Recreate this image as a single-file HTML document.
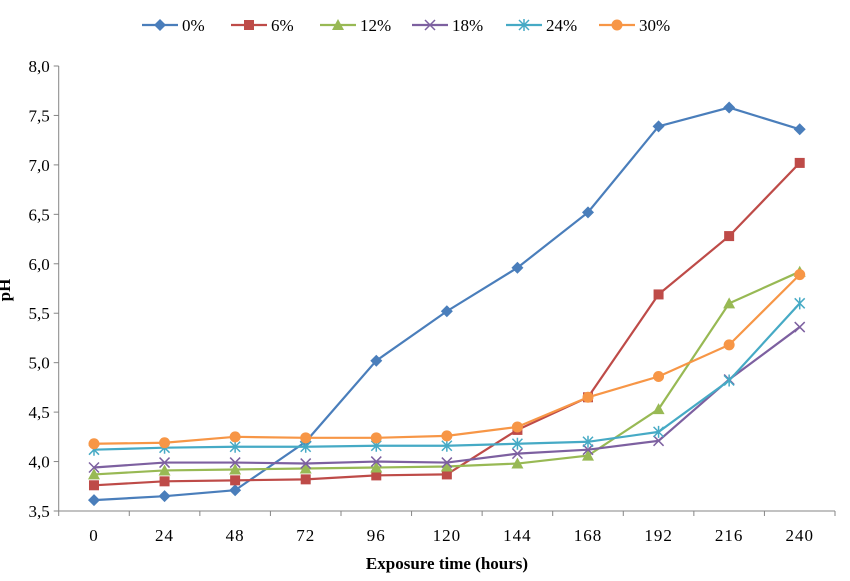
<!DOCTYPE html>
<html><head><meta charset="utf-8"><style>
body{margin:0;background:#fff;}
svg{display:block;font-family:"Liberation Serif",serif;}
</style></head><body>
<svg id="chart" width="850" height="581"></svg>
<script>
const categories=[0,24,48,72,96,120,144,168,192,216,240];
const seriesNames=["0%","6%","12%","18%","24%","30%"];
const s0=[3.61,3.65,3.71,4.2,5.02,5.52,5.96,6.52,7.39,7.58,7.36];
const s6=[3.76,3.80,3.81,3.82,3.86,3.87,4.32,4.65,5.69,6.28,7.02];
const s12=[3.87,3.91,3.92,3.93,3.94,3.95,3.98,4.06,4.53,5.60,5.92];
const s18=[3.94,3.99,3.99,3.98,4.00,3.99,4.08,4.12,4.21,4.83,5.36];
const s24=[4.12,4.14,4.15,4.15,4.16,4.16,4.18,4.20,4.30,4.82,5.60];
const s30=[4.18,4.19,4.25,4.24,4.24,4.26,4.35,4.65,4.86,5.18,5.89];
const yTicks=["3,5","4,0","4,5","5,0","5,5","6,0","6,5","7,0","7,5","8,0"];
const allSeries=[s0,s6,s12,s18,s24,s30];
const colors=["#4a7ebb","#be4b48","#98b954","#7d60a0","#46aac5","#f79646"];
const markers=["diamond","square","triangle","x","star","circle"];
const NS="http://www.w3.org/2000/svg";
const svg=document.getElementById('chart');
const L=58.7,R=835,T=66,B=511,ymin=3.5,ymax=8.0;
const bw=(R-L)/categories.length;
const xs=i=>L+bw*(i+0.5);
const ys=v=>B-(v-ymin)/(ymax-ymin)*(B-T);
function el(t,a,p){const e=document.createElementNS(NS,t);for(const k in a)e.setAttribute(k,a[k]);(p||svg).appendChild(e);return e;}
let ax=el('line',{x1:L,y1:T,x2:L,y2:B,stroke:'#868686'});


let xa=el('line',{x1:L,y1:B,x2:R,y2:B,stroke:'#868686'});


yTicks.forEach((t,i)=>{const v=ymin+i*0.5,y=ys(v);
 el('line',{x1:L-5,y1:y,x2:L,y2:y,stroke:'#868686'});
 const tx=el('text',{x:L-9,y:y+6,'text-anchor':'end','font-size':17});tx.textContent=t;
 
 
});
for(let i=0;i<=categories.length;i++){const x=L+bw*i;el('line',{x1:x,y1:B,x2:x,y2:B+5,stroke:'#868686'});}
categories.forEach((c,i)=>{const tx=el('text',{x:xs(i),y:B+30,'text-anchor':'middle','font-size':17,'letter-spacing':'1'});tx.textContent=c;
 
 
});
let xt=el('text',{x:447,y:569,'text-anchor':'middle','font-size':17,'font-weight':'bold'});xt.textContent='Exposure time (hours)';


let yt=el('text',{x:0,y:0,'text-anchor':'middle','font-size':17,'font-weight':'bold',transform:'translate(10,290) rotate(-90)'});yt.textContent='pH';


function marker(type,x,y,c,g){
 if(type==='diamond')el('polygon',{points:`${x},${y-6} ${x+6},${y} ${x},${y+6} ${x-6},${y}`,fill:c},g);
 else if(type==='square')el('rect',{x:x-5,y:y-5,width:10,height:10,fill:c},g);
 else if(type==='triangle')el('polygon',{points:`${x},${y-6} ${x+6},${y+5} ${x-6},${y+5}`,fill:c},g);
 else if(type==='x'){el('path',{d:`M${x-5} ${y-5}L${x+5} ${y+5}M${x-5} ${y+5}L${x+5} ${y-5}`,stroke:c,'stroke-width':1.5},g);}
 else if(type==='star'){el('path',{d:`M${x-5} ${y-5}L${x+5} ${y+5}M${x-5} ${y+5}L${x+5} ${y-5}M${x} ${y-6}L${x} ${y+6}`,stroke:c,'stroke-width':1.5},g);}
 else el('circle',{cx:x,cy:y,r:5.5,fill:c},g);
}
allSeries.forEach((s,k)=>{
 const g=el('g',{});
 
 
 el('polyline',{points:s.map((v,i)=>xs(i)+','+ys(v)).join(' '),fill:'none',stroke:colors[k],'stroke-width':2.2},g);
 s.forEach((v,i)=>marker(markers[k],xs(i),ys(v),colors[k],g));
});
const lx=[142,231,320,412,506,599];
seriesNames.forEach((n,k)=>{
 const g=el('g',{});
 
 
 el('line',{x1:lx[k],y1:25,x2:lx[k]+36,y2:25,stroke:colors[k],'stroke-width':2.2},g);
 marker(markers[k],lx[k]+18,25,colors[k],g);
 const t=el('text',{x:lx[k]+40,y:31,'font-size':17},g);t.textContent=n;
});
</script>
</body></html>
